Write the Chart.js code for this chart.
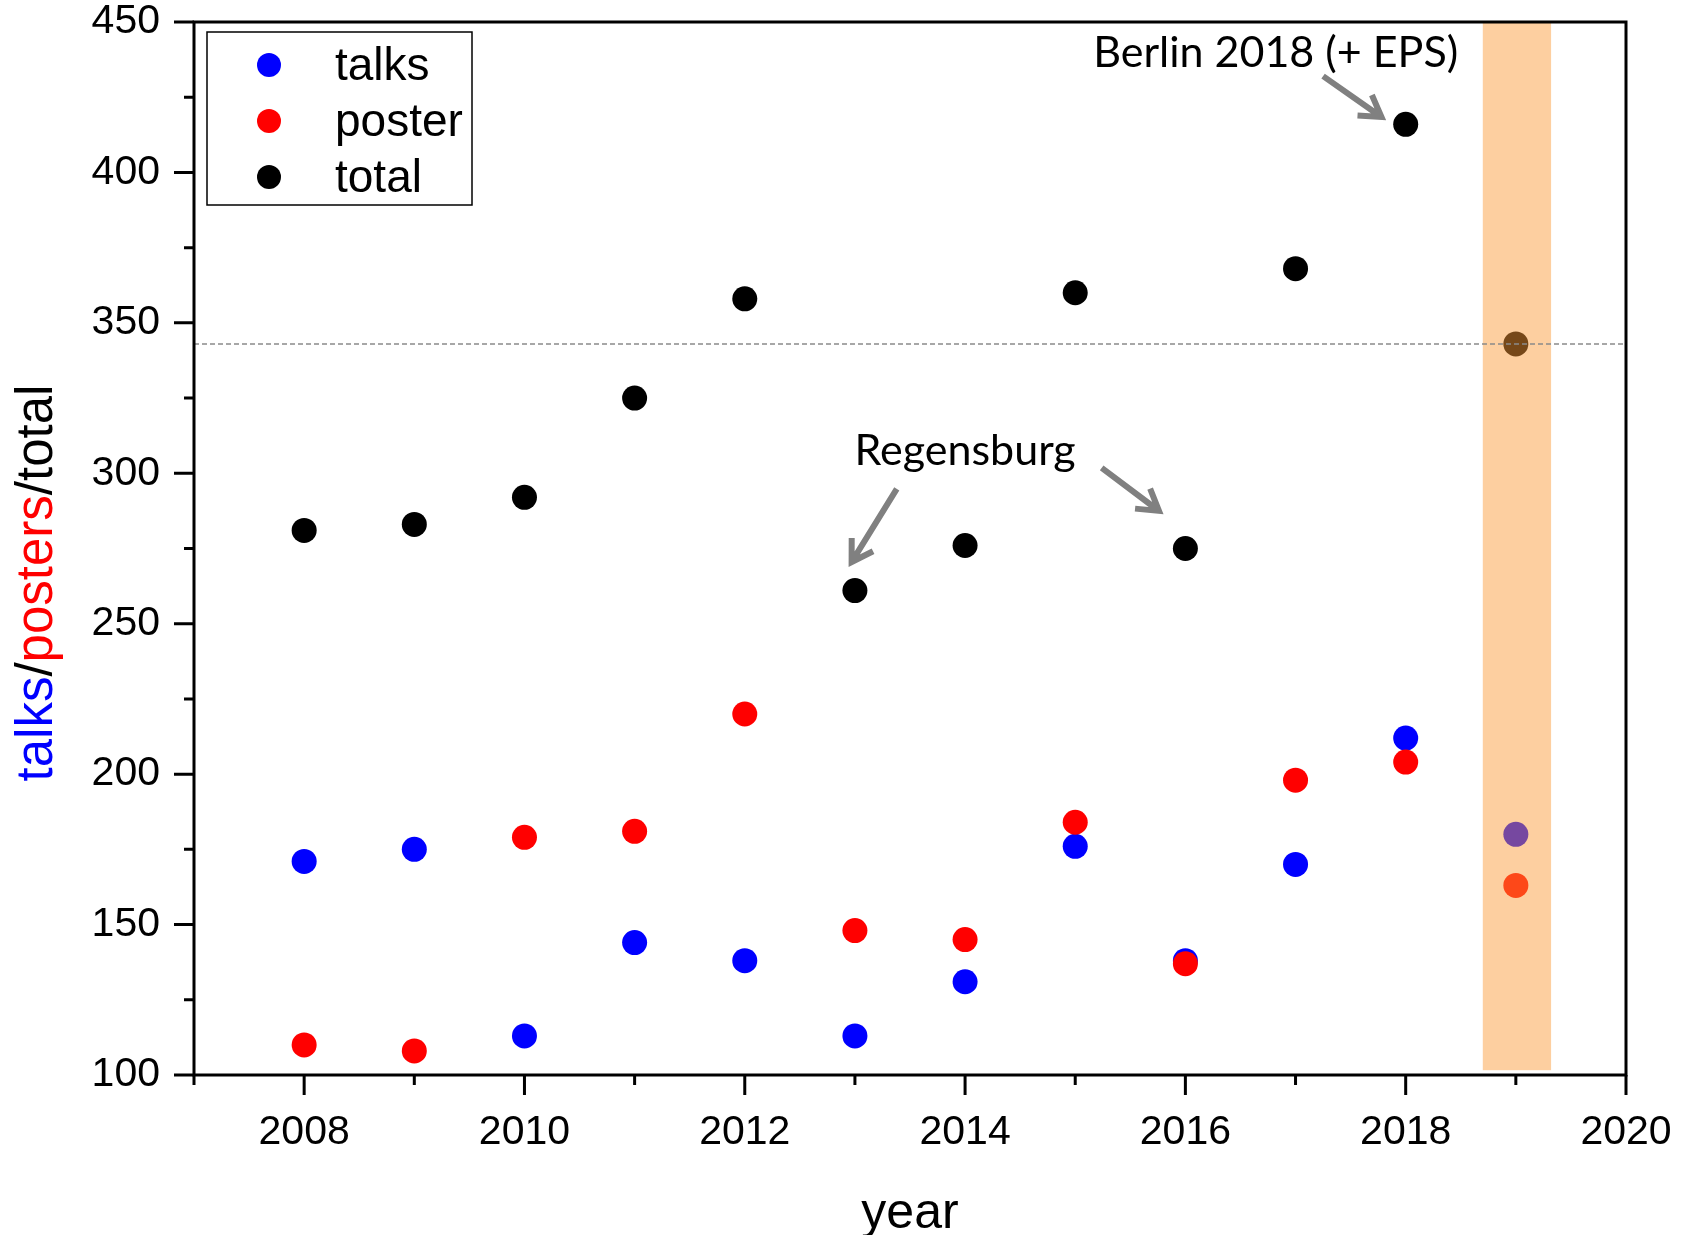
<!DOCTYPE html>
<html>
<head>
<meta charset="utf-8">
<script src="https://cdn.jsdelivr.net/npm/chart.js@4.4.0/dist/chart.umd.min.js"></script>
<style>
  body { margin: 0; background: #fff; }
</style>
</head>
<body>
<canvas id="myChart" width="1694" height="1235"></canvas>
<script>
// values
var years   = [2008, 2009, 2010, 2011, 2012, 2013, 2014, 2015, 2016, 2017, 2018, 2019];
var talks   = [171, 175, 113, 144, 138, 113, 131, 176, 138, 170, 212, 180];
var posters = [110, 108, 179, 181, 220, 148, 145, 184, 137, 198, 204, 163];
var total   = [281, 283, 292, 325, 358, 261, 276, 360, 275, 368, 416, 343];
var seriesNames = ['talks', 'poster', 'total'];
var xTicks = [2008, 2010, 2012, 2014, 2016, 2018, 2020];
var yTicks = [100, 150, 200, 250, 300, 350, 400, 450];
var highlightYear = 2019;
var refLevel = 343;

var FONT = "'Liberation Sans', Arial, Helvetica, sans-serif";
var NOTE_FONT = "Lato, 'Open Sans', sans-serif";

function pts(vals) {
  return years.map(function (y, i) { return { x: y, y: vals[i] }; });
}

// arrow with open head
function arrow(ctx, x0, y0, x1, y1) {
  var ang = Math.atan2(y1 - y0, x1 - x0), h = 24;
  ctx.beginPath();
  ctx.moveTo(x0, y0);
  ctx.lineTo(x1 - 4 * Math.cos(ang), y1 - 4 * Math.sin(ang));
  ctx.moveTo(x1 - h * Math.cos(ang - 0.55), y1 - h * Math.sin(ang - 0.55));
  ctx.lineTo(x1, y1);
  ctx.lineTo(x1 - h * Math.cos(ang + 0.55), y1 - h * Math.sin(ang + 0.55));
  ctx.stroke();
}

var decor = {
  id: 'decor',
  afterDatasetsDraw: function (chart) {
    var ctx = chart.ctx, xs = chart.scales.x, ys = chart.scales.y, a = chart.chartArea;
    var X = function (v) { return xs.getPixelForValue(v); };
    var Y = function (v) { return ys.getPixelForValue(v); };
    ctx.save();

    // translucent band over the 2019 points
    ctx.fillStyle = 'rgba(250,152,53,0.47)';
    var b0 = X(highlightYear - 0.3), b1 = X(highlightYear + 0.32);
    ctx.fillRect(b0, a.top, b1 - b0, Y(101.6) - a.top);

    // dashed reference line
    ctx.strokeStyle = '#8a8a8a';
    ctx.lineWidth = 1.5;
    ctx.setLineDash([5, 3]);
    ctx.beginPath();
    ctx.moveTo(a.left, Y(refLevel));
    ctx.lineTo(a.right, Y(refLevel));
    ctx.stroke();
    ctx.setLineDash([]);

    // notes and arrows
    ctx.fillStyle = '#000';
    ctx.font = '43px ' + NOTE_FONT;
    ctx.textAlign = 'center';
    ctx.textBaseline = 'alphabetic';
    ctx.fillText('Berlin 2018 (+ EPS)', X(2016.82), Y(435));
    ctx.fillText('Regensburg', X(2014.0), Y(302.8));
    ctx.strokeStyle = '#808080';
    ctx.lineWidth = 6;
    ctx.lineJoin = 'miter';
    arrow(ctx, X(2017.25), Y(432), X(2017.78), Y(418.4));
    arrow(ctx, X(2013.38), Y(294.8), X(2012.97), Y(270.5));
    arrow(ctx, X(2015.24), Y(301.8), X(2015.76), Y(287.5));

    // legend box
    var lx = a.left + 13, ly = a.top + 10;
    ctx.fillStyle = '#fff';
    ctx.fillRect(lx, ly, 265, 173);
    ctx.strokeStyle = '#000';
    ctx.lineWidth = 1.5;
    ctx.strokeRect(lx, ly, 265, 173);
    ctx.font = '46px ' + FONT;
    ctx.textAlign = 'left';
    ctx.textBaseline = 'middle';
    chart.data.datasets.forEach(function (ds, i) {
      var cy = ly + 33 + i * 56;
      ctx.fillStyle = ds.backgroundColor;
      ctx.beginPath();
      ctx.arc(lx + 62, cy, 12, 0, Math.PI * 2);
      ctx.fill();
      ctx.fillStyle = '#000';
      ctx.fillText(ds.label, lx + 128, cy + 2);
    });

    // frame
    ctx.strokeStyle = '#000';
    ctx.lineWidth = 3;
    ctx.strokeRect(a.left, a.top, a.right - a.left, a.bottom - a.top);

    // ticks: major long, minor short, pointing out
    ctx.beginPath();
    for (var v = xs.min; v <= xs.max; v += 1) {
      var len = (v % 2 === 0) ? 20 : 10;
      ctx.moveTo(X(v), a.bottom);
      ctx.lineTo(X(v), a.bottom + len);
    }
    for (var w = ys.min; w <= ys.max; w += 25) {
      var l2 = (w % 50 === 0) ? 20 : 10;
      ctx.moveTo(a.left, Y(w));
      ctx.lineTo(a.left - l2, Y(w));
    }
    ctx.stroke();

    // y title, three colours
    var parts = [['talks', '#0000ff'], ['/', '#000'], ['posters', '#ff0000'], ['/total', '#000']];
    ctx.font = '51px ' + FONT;
    ctx.textBaseline = 'middle';
    var tw = 0;
    parts.forEach(function (p) { tw += ctx.measureText(p[0]).width; });
    ctx.translate(38, 583);
    ctx.rotate(-Math.PI / 2);
    var px = -tw / 2;
    parts.forEach(function (p) {
      ctx.fillStyle = p[1];
      ctx.fillText(p[0], px, 0);
      px += ctx.measureText(p[0]).width;
    });

    ctx.restore();
  }
};

var ctx = document.getElementById('myChart').getContext('2d');
var chart = new Chart(ctx, {
  type: 'scatter',
  data: {
    datasets: [
      { label: seriesNames[0], data: pts(talks), backgroundColor: '#0000ff', order: 2 },
      { label: seriesNames[1], data: pts(posters), backgroundColor: '#ff0000', order: 1 },
      { label: seriesNames[2], data: pts(total), backgroundColor: '#000000', order: 0 }
    ]
  },
  options: {
    responsive: false,
    animation: false,
    events: [],
    elements: { point: { radius: 12.5, borderWidth: 0, hoverRadius: 12.5 } },
    layout: { padding: { left: 0, top: 22, right: 68, bottom: 0 } },
    plugins: { legend: { display: false }, tooltip: { enabled: false } },
    scales: {
      x: {
        type: 'linear',
        min: 2007,
        max: xTicks[xTicks.length - 1],
        grid: { display: false, drawTicks: false },
        border: { display: false },
        afterBuildTicks: function (s) {
          s.ticks = xTicks.map(function (v) { return { value: v }; });
        },
        ticks: {
          color: '#000',
          font: { size: 41, family: FONT },
          padding: 33,
          maxRotation: 0,
          autoSkip: false,
          callback: function (v) { return String(v); }
        },
        title: {
          display: true,
          text: 'year',
          color: '#000',
          font: { size: 50, family: FONT },
          padding: { top: 0, bottom: -9 }
        },
        afterFit: function (s) {
          s.height = 160;
          s.paddingLeft = 0; s.paddingRight = 0;
        }
      },
      y: {
        min: yTicks[0],
        max: yTicks[yTicks.length - 1],
        grid: { display: false, drawTicks: false },
        border: { display: false },
        afterBuildTicks: function (s) {
          s.ticks = yTicks.map(function (v) { return { value: v }; });
        },
        ticks: {
          color: '#000',
          font: { size: 41, family: FONT },
          padding: 34,
          callback: function (v) { return String(v); }
        },
        afterFit: function (s) {
          s.width = 194;
          s.paddingTop = 0; s.paddingBottom = 0;
        }
      }
    }
  },
  plugins: [decor]
});
</script>
</body>
</html>
